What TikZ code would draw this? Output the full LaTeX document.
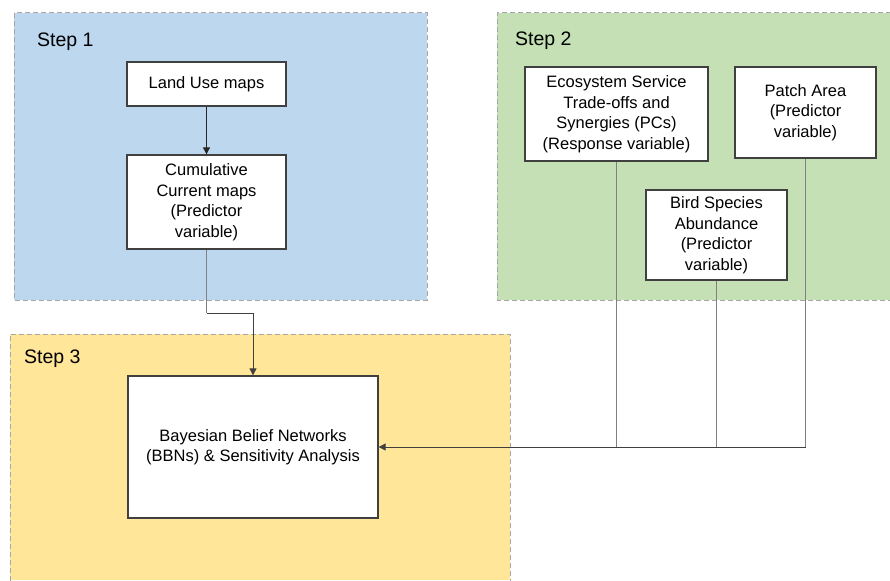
\documentclass[tikz,border=0pt]{standalone}
\usepackage{fontspec}
\setmainfont{Liberation Sans}
\usetikzlibrary{arrows.meta}
\definecolor{stepblue}{HTML}{BDD7EE}
\definecolor{stepgreen}{HTML}{C5E0B4}
\definecolor{stepyellow}{HTML}{FFE699}
\definecolor{frame}{HTML}{A6A6A6}
\definecolor{boxline}{HTML}{404040}
\definecolor{conn}{HTML}{808080}
\begin{document}
\begin{tikzpicture}[x=1pt,y=-1pt,
  box/.style={draw=boxline,line width=1.3pt,fill=white,align=center,inner sep=0pt,
    font=\fontsize{16.5}{20.5}\selectfont},
  steplabel/.style={anchor=base west,inner sep=0pt,font=\fontsize{19.5}{22}\selectfont},
  region/.style={draw=frame,line width=1pt,dash pattern=on 5pt off 3pt},
  link/.style={draw=conn,line width=1pt},
  arr/.style={draw=black!85,line width=0.9pt,-{Triangle[width=7pt,length=7pt]}}]
\useasboundingbox (0,0) rectangle (890,580);
% regions
\fill[stepblue] (14,13) rectangle (427,300);
\draw[region] (14,13) rectangle (427,300);
\fill[stepgreen] (497,13) rectangle (890,300);
\draw[region] (891,13) -- (497,13) -- (497,300) -- (891,300);
\fill[stepyellow] (10,334) rectangle (510,580);
\draw[region] (10,581) -- (10,334) -- (510,334) -- (510,581);
% labels
\node[steplabel] (s1) at (37,47) {Step 1};
\node[steplabel] (s2) at (515,46) {Step 2};
\node[steplabel] (s3) at (24,363) {Step 3};
% boxes
\node[box,minimum width=159pt,minimum height=44pt] (land) at (206.5,84) {Land Use maps};
\node[box,minimum width=159pt,minimum height=94pt] (cum) at (206.5,202) {Cumulative\\Current maps\\(Predictor\\variable)};
\node[box,minimum width=183pt,minimum height=94pt] (eco) at (616.5,114) {Ecosystem Service\\Trade-offs and\\Synergies (PCs)\\(Response variable)};
\node[box,minimum width=141pt,minimum height=91pt] (patch) at (805.5,112.5) {Patch Area\\(Predictor\\variable)};
\node[box,minimum width=141pt,minimum height=90pt] (bird) at (716.5,235) {Bird Species\\Abundance\\(Predictor\\variable)};
\node[box,minimum width=250pt,minimum height=142pt] (bbn) at (253,447) {Bayesian Belief Networks\\(BBNs) \& Sensitivity Analysis};
% connectors
\draw[arr] (land.south) -- (cum.south |- cum.north);
\coordinate (bend) at (206.5,313);
\draw[link] (cum.south) -- (bend);
\draw[arr,draw=black!75] (bend) -| (bbn.north);
\draw[link] (eco.south) -- (eco.south |- bbn.east);
\draw[link] (bird.south) -- (bird.south |- bbn.east);
\draw[link] (patch.south) -- (patch.south |- bbn.east);
\draw[arr,draw=black!75] (patch.south |- bbn.east) -- (bbn.east);
\end{tikzpicture}
\end{document}
